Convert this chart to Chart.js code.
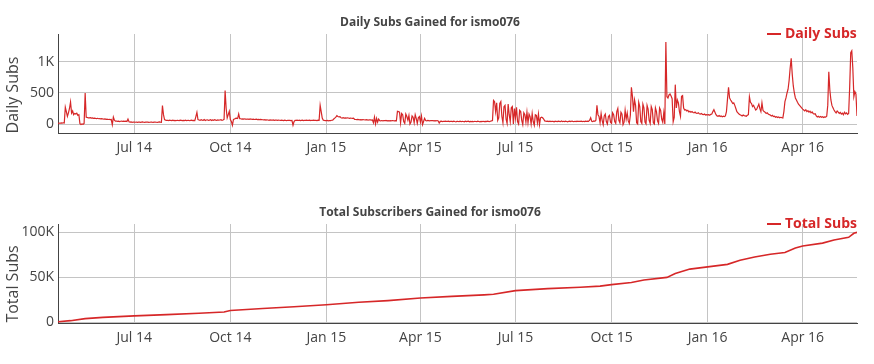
<!DOCTYPE html>
<html>
<head>
<meta charset="utf-8">
<script src="https://cdn.jsdelivr.net/npm/chart.js@4.4.1/dist/chart.umd.min.js"></script>
<style>
  html, body { margin: 0; padding: 0; background: #fff; }
  #wrap { position: relative; width: 874px; height: 364px; }
  canvas { position: absolute; left: 0; }
  #dailyChart { top: 0; }
  #totalChart { top: 182px; }
</style>
</head>
<body>
<div id="wrap">
  <canvas id="dailyChart" width="874" height="182"></canvas>
  <canvas id="totalChart" width="874" height="182"></canvas>
</div>
<script>
// daily values start on this date, one value per day
const firstDay = '2014-04-19';

const dailySubs = [
  // Apr 2014 (from the 19th)
  10, 15, 12, 18, 14, 20, 16, 270, 200, 124, 180, 250,
  // May 2014
  355, 177, 210, 150, 170, 160, 175, 140, 150, 5, -10, 0, -5, 10, 500, 110, 105, 100, 98, 102, 95, 97, 92, 95, 90, 88, 92, 85, 87, 83, 85,
  // Jun 2014
  80, 78, 82, 75, 77, 73, 76, 70, 72, -10, 110, 60, 45, 48, 42, 46, 40, 44, 47, 41, 45, 43, 46, 40, 80, 35, 30, 33, 28, 32,
  // Jul 2014
  30, 28, 32, 27, 31, 29, 26, 30, 33, 28, 27, 31, 29, 30, 26, 28, 32, 29, 27, 30, 31, 28, 26, 29, 33, 30, 28, 296, 150, 70, 62,
  // Aug 2014
  58, 60, 55, 62, 57, 54, 61, 56, 59, 53, 60, 57, 55, 62, 58, 54, 59, 56, 61, 55, 57, 60, 53, 58, 62, 56, 59, 55, 120, 188, 70,
  // Sep 2014
  65, 58, 70, 62, 60, 72, 57, 64, 68, 59, 63, 71, 56, 66, 60, 69, 62, 58, 67, 61, 64, 70, 59, 65, 75, 538, 250, 97, 150, 204,
  // Oct 2014
  70, 40, -20, 75, 80, 90, 95, 88, 161, 86, 85, 80, 82, 78, 84, 76, 80, 79, 74, 81, 77, 75, 79, 73, 76, 78, 72, 75, 70, 74, 71,
  // Nov 2014
  68, 65, 70, 62, 66, 64, 60, 67, 63, 61, 65, 59, 62, 64, 58, 63, 60, 57, 61, 59, 56, 62, 58, 55, 60, 57, 59, 54, 58, -20,
  // Dec 2014
  40, 60, 58, 62, 57, 61, 55, 59, 63, 56, 60, 58, 62, 57, 59, 61, 55, 60, 58, 63, 57, 59, 56, 62, 60, 300, 200, 97, 62, 58, 55,
  // Jan 2015
  54, 57, 52, 56, 55, 60, 62, 80, 95, 110, 134, 120, 115, 118, 100, 96, 102, 95, 98, 94, 100, 97, 92, 96, 93, 90, 95, 75, 72, 70, 74,
  // Feb 2015
  72, 68, 70, 66, 71, 69, 65, 70, 67, 64, 68, 66, 63, 67, 20, 110, 0, 90, 30, 80, 55, 52, 56, 50, 54, 53, 57, 51,
  // Mar 2015
  54, 52, 55, 50, 56, 53, 51, 55, 52, 204, 200, 190, 20, 170, 150, 40, 10, 160, 120, 60, 140, 0, 30, 130, 110, 20, 150, 90, 10, 100, 120,
  // Apr 2015
  30, 130, -10, 40, 90, 55, 52, 57, 54, 50, 56, 53, 55, 51, 54, 52, 56, 50, 15, 43, 45, 40, 44, 42, 46, 41, 43, 45, 40, 44,
  // May 2015
  42, 38, 45, 40, 36, 44, 41, 39, 46, 37, 43, 40, 35, 44, 38, 42, 45, 36, 41, 39, 43, 37, 44, 40, 38, 45, 41, 36, 42, 39, 44,
  // Jun 2015
  40, 43, 38, 45, 41, 37, 44, 50, 55, 380, 360, 200, 340, 60, 100, 330, 360, 120, 20, 280, 300, 80, 10, 320, 150, 40, 260, 280, 0, 250,
  // Jul 2015
  100, 270, 40, 0, 220, 200, 60, -10, 180, 150, 30, 190, 20, 160, 120, 0, 170, 40, -20, 150, 140, 20, 160, -10, 100, 110, 100, 80, 50, 45, 42,
  // Aug 2015
  45, 40, 47, 38, 44, 42, 36, 46, 41, 39, 45, 43, 37, 48, 40, 44, 38, 46, 41, 35, 43, 45, 39, 47, 42, 40, 44, 38, 46, 41, 43,
  // Sep 2015
  42, 46, 40, 44, 38, 45, 41, 47, 43, 60, 100, 45, 40, 48, 42, 60, 300, 150, 120, 20, 170, 60, -10, 130, 160, 40, 0, 120, 140, 30,
  // Oct 2015
  10, 180, 150, 40, 10, 200, 250, 60, 20, 190, 160, -10, 30, 220, 80, 177, 50, 10, 140, 591, 446, 200, 390, 300, 20, 0, 350, 280, 40, 10, 320,
  // Nov 2015
  260, 30, 0, 300, 240, 60, 10, 280, 230, 20, 0, 260, 200, 50, 10, 258, 220, 80, 30, 180, 0, 1322, 440, 419, 468, 484, 450, 408, 37, 107,
  // Dec 2015
  634, 258, 387, 339, 200, 124, 446, 457, 258, 226, 230, 210, 220, 195, 205, 190, 200, 185, 180, 192, 175, 170, 180, 165, 160, 170, 155, 150, 160, 145, 150,
  // Jan 2016
  148, 152, 140, 155, 160, 200, 230, 190, 150, 130, 124, 135, 120, 128, 115, 125, 118, 130, 200, 400, 592, 420, 387, 360, 330, 340, 300, 250, 200, 180, 160,
  // Feb 2016
  150, 140, 130, 145, 135, 130, 125, 140, 150, 440, 350, 330, 280, 300, 260, 226, 240, 280, 320, 250, 200, 339, 220, 200, 190, 170, 180, 160, 150,
  // Mar 2016
  145, 130, 140, 120, 125, 110, 118, 105, 112, 100, 108, 102, 98, 200, 360, 420, 500, 560, 700, 900, 1060, 800, 613, 500, 420, 387, 350, 320, 300, 280, 260,
  // Apr 2016
  240, 226, 210, 230, 200, 215, 190, 205, 180, 195, 170, 160, 165, 130, 113, 125, 110, 120, 108, 118, 105, 115, 110, 125, 300, 843, 548, 387, 300, 260,
  // May 2016 (to the 23rd)
  226, 200, 180, 210, 190, 170, 185, 160, 175, 150, 190, 165, 180, 155, 170, 600, 1150, 1180, 900, 440, 520, 480, 130
];

const totalDates = [
  '2014-04-19', '2014-05-01', '2014-05-15', '2014-06-01', '2014-07-01', '2014-08-01', '2014-09-01', '2014-09-25',
  '2014-10-01', '2014-11-01', '2014-12-01', '2015-01-01', '2015-02-01', '2015-03-01', '2015-04-01', '2015-05-01',
  '2015-06-01', '2015-06-10', '2015-07-01', '2015-08-01', '2015-09-01', '2015-09-20', '2015-10-01', '2015-10-20',
  '2015-11-01', '2015-11-23', '2015-12-01', '2015-12-15', '2016-01-01', '2016-01-20', '2016-02-01', '2016-02-15',
  '2016-03-01', '2016-03-15', '2016-03-25', '2016-04-01', '2016-04-20', '2016-05-01', '2016-05-15', '2016-05-20',
  '2016-05-23'
];
const totalSubs = [
  300, 1500, 3800, 5200, 6900, 8200, 9800, 11200,
  12800, 15000, 17000, 19300, 22000, 23900, 26800, 28600,
  30300, 31000, 35000, 37200, 38800, 40000, 41700, 44000,
  46800, 49800, 54000, 59000, 61500, 64300, 68800, 72500,
  75600, 77600, 82500, 84800, 88000, 91500, 94400, 98900,
  100000
];

const xTickDates = ['2014-07-01', '2014-10-01', '2015-01-01', '2015-04-01', '2015-07-01', '2015-10-01', '2016-01-01', '2016-04-01'];
const xTickLabels = ['Jul 14', 'Oct 14', 'Jan 15', 'Apr 15', 'Jul 15', 'Oct 15', 'Jan 16', 'Apr 16'];

const dailyTicks = [0, 500, 1000];
const dailyTickLabels = ['0', '500', '1K'];
const totalTicks = [0, 50000, 100000];
const totalTickLabels = ['0', '50K', '100K'];

const DAY = 86400000;
const RED = 'rgb(214, 39, 40)';
const FONT = '"Open Sans", sans-serif';

const xMin = Date.parse('2014-04-19');
const xMax = Date.parse('2016-05-23');

// titles, legend and axis title are painted by hand so they sit where plotly put them
const textPlugin = {
    id: 'texts',
    afterDraw(chart, args, o) {
        const c = chart.ctx;
        c.save();
        c.textBaseline = 'middle';

        c.fillStyle = '#444';
        c.font = 'bold 12px ' + FONT;
        c.textAlign = 'center';
        c.fillText(o.title, 430, o.titleY);

        c.strokeStyle = RED;
        c.lineWidth = 2;
        c.beginPath();
        c.moveTo(767, o.legendY);
        c.lineTo(781, o.legendY);
        c.stroke();
        c.fillStyle = RED;
        c.font = 'bold 14px ' + FONT;
        c.textAlign = 'left';
        c.fillText(o.legend, 785, o.legendY);

        c.translate(13, o.axisTitleY);
        c.rotate(-Math.PI / 2);
        c.fillStyle = '#444';
        c.font = '16px ' + FONT;
        c.textAlign = 'center';
        c.fillText(o.axisTitle, 0, 0);
        c.restore();
    }
};

function makeChart(id, points, lineWidth, yMin, yMax, yTicks, yLabels, plotTop, xAxisHeight, texts) {
    return new Chart(document.getElementById(id), {
        type: 'line',
        data: {
            datasets: [{
                data: points,
                borderColor: RED,
                borderWidth: lineWidth,
                pointRadius: 0,
                tension: 0,
                fill: false
            }]
        },
        options: {
            responsive: false,
            animation: false,
            devicePixelRatio: 1,
            layout: { padding: { left: 0, right: 17, top: plotTop, bottom: 0 } },
            plugins: {
                legend: { display: false },
                tooltip: { enabled: false },
                texts: texts
            },
            scales: {
                x: {
                    type: 'linear',
                    min: xMin,
                    max: xMax,
                    afterBuildTicks: s => { s.ticks = xTickDates.map(d => ({ value: Date.parse(d) })); },
                    afterFit: s => { s.height = xAxisHeight; },
                    grid: { color: '#c4c4c4', drawTicks: false },
                    border: { display: true, color: '#444', width: 1 },
                    ticks: {
                        autoSkip: false,
                        maxRotation: 0,
                        padding: 7,
                        color: '#444',
                        font: { family: FONT, size: 14 },
                        callback: (v, i) => xTickLabels[i]
                    }
                },
                y: {
                    min: yMin,
                    max: yMax,
                    afterBuildTicks: s => { s.ticks = yTicks.map(v => ({ value: v })); },
                    afterFit: s => { s.width = 58; },
                    grid: { color: '#c4c4c4', drawTicks: false },
                    border: { display: true, color: '#444', width: 1 },
                    ticks: {
                        padding: 4,
                        color: '#444',
                        font: { family: FONT, size: 14 },
                        callback: (v, i) => yLabels[i]
                    }
                }
            }
        },
        plugins: [textPlugin]
    });
}

const dailyStart = Date.parse(firstDay);
const dailyPoints = dailySubs.map((v, i) => ({ x: dailyStart + i * DAY, y: v }));
const totalPoints = totalDates.map((d, i) => ({ x: Date.parse(d), y: totalSubs[i] }));

makeChart('dailyChart', dailyPoints, 1.2, -145, 1450, dailyTicks, dailyTickLabels, 34, 49, {
    title: 'Daily Subs Gained for ismo076', titleY: 23,
    legend: 'Daily Subs', legendY: 34,
    axisTitle: 'Daily Subs', axisTitleY: 95
});

makeChart('totalChart', totalPoints, 1.6, -1100, 109300, totalTicks, totalTickLabels, 42, 41, {
    title: 'Total Subscribers Gained for ismo076', titleY: 31,
    legend: 'Total Subs', legendY: 42,
    axisTitle: 'Total Subs', axisTitleY: 102
});
</script>
</body>
</html>
